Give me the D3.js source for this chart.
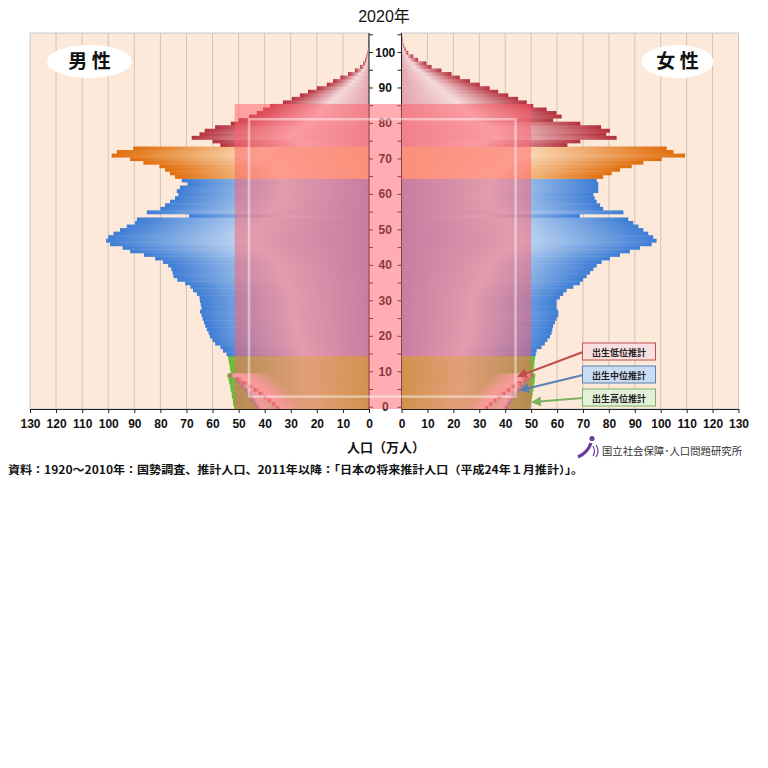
<!DOCTYPE html>
<html><head><meta charset="utf-8">
<script src="https://cdn.jsdelivr.net/npm/d3@7"></script>
<style>body{margin:0;background:#fff}</style>
</head><body>
<svg id="c" width="768" height="768"></svg>
<script>
// ---------------- data ----------------
const title = "2020年";
const ages = d3.range(0, 106);
// ages 0..105 (ages 0-9: medium-variant projection), 万人
const male = [
 43.5,44.3,45.1,46.0,46.9,47.9,49.0,50.2,51.4,53.5,
 53.0,53.3,53.5,53.8,54.0,54.6,56.0,57.0,59.0,60.0,
 61.0,61.5,62.2,62.8,63.3,63.8,64.2,64.8,64.2,64.5,
 64.8,65.0,66.0,67.5,68.5,70.5,73.5,75.0,75.3,75.8,
 77.0,79.0,82.0,86.3,91.6,94.5,99.3,100.8,100.0,98.0,
 95.5,92.9,89.7,89.0,69.0,85.2,80.0,78.2,76.3,74.4,
 73.1,73.7,72.5,69.5,71.8,74.4,76.3,78.2,80.4,86.5,
 91.6,98.7,96.7,90.4,57.0,60.0,68.0,65.0,63.0,59.0,
 53.0,50.0,46.0,43.0,40.6,38.0,33.0,29.6,26.5,23.4,
 20.0,16.2,13.8,11.0,8.0,5.4,3.4,2.2,1.5,1.0,
 0.6,0.4,0.25,0.15,0.1,0.05
];
const female = [
 41.0,41.8,42.7,43.6,44.6,45.6,46.7,47.9,49.1,50.6,
 50.8,51.0,51.2,51.3,51.5,51.8,52.1,54.0,55.3,56.3,
 57.3,57.9,58.2,58.5,59.2,59.8,60.5,60.5,59.8,59.8,
 59.8,61.1,62.4,63.7,66.3,68.8,70.0,71.4,72.7,74.0,
 75.3,77.2,80.4,84.3,88.1,92.0,96.5,98.4,97.1,95.2,
 93.3,91.4,89.4,87.5,68.8,85.6,77.8,76.6,75.3,74.5,
 74.0,75.9,75.9,75.9,75.3,77.8,81.1,84.3,88.8,93.3,
 100.4,109.4,104.9,102.3,64.0,69.0,83.0,79.0,80.4,77.0,
 69.0,58.5,61.8,59.8,56.0,50.8,48.3,45.0,41.2,37.3,
 34.0,30.2,26.4,22.5,19.3,15.4,11.6,9.6,6.4,4.5,
 2.6,1.6,1.0,0.6,0.35,0.2
];
// birth-variant projections for ages 0..9
const variantAges = d3.range(0, 10);
const maleLow    = [35.5,37.0,38.7,40.4,42.2,44.2,46.3,48.5,50.8,53.5];
const maleHigh   = [51.7,52.1,52.2,52.6,52.7,53.1,53.2,53.6,53.9,54.3];
const femaleLow  = [33.4,34.9,36.6,38.3,40.0,41.9,44.0,46.2,48.3,50.6];
const femaleHigh = [49.6,50.0,50.1,50.4,50.6,50.9,51.0,51.3,51.4,51.6];
const variantLabels = ["出生低位推計","出生中位推計","出生高位推計"];
const xTicks = d3.range(0, 131, 10);
const ageLabels = d3.range(0, 101, 10);
const ageMinor = d3.range(0, 106, 5);
const groupBreaks = [15, 65, 74];   // 0-14 / 15-64 / 65-73 / 74+
const overlayBox = {male: 51.5, female: 50, ageTop: 86};
const frameBox = {male: 46, female: 44, ageBottom: 3.5, ageTop: 81.7};

// ---------------- setup ----------------
const svg = d3.select("#c");
const defs = svg.append("defs");
const xL = d3.scaleLinear().domain([0, 130]).range([369, 30]);
const xR = d3.scaleLinear().domain([0, 130]).range([401.5, 738.5]);
const yB = d3.scaleBand().domain(ages).range([409, 33]);
const yA = d3.scaleLinear().domain([0, 106]).range([409, 33]);
const bw = yB.bandwidth();
const plotTop = 33, plotBottom = 409;

const groupColors = {
  green:  ["#66bb36", "#c4e38a", "#a2c632"],
  blue:   ["#3d7dd5", "#c6daf3", "#8c9edb"],
  orange: ["#e06e0c", "#fbd9b8", "#f4c48a"],
  red:    ["#b5313d", "#f5dadc", "#e3a4ab"]
};
function groupOf(a) {
  if (a < groupBreaks[0]) return "green";
  if (a < groupBreaks[1]) return "blue";
  if (a < groupBreaks[2]) return "orange";
  return "red";
}
["L", "R"].forEach(side => {
  Object.entries(groupColors).forEach(([k, c]) => {
    const g = defs.append("linearGradient").attr("id", `g-${k}-${side}`)
      .attr("x1", side === "L" ? 0 : 1).attr("x2", side === "L" ? 1 : 0)
      .attr("y1", 0).attr("y2", 0);
    g.append("stop").attr("offset", 0).attr("stop-color", c[0]);
    g.append("stop").attr("offset", 0.55).attr("stop-color", c[1]);
    g.append("stop").attr("offset", 1).attr("stop-color", c[2]);
  });
  [["low", "#c0504c", "#f8d8d0"], ["mid", "#6e7896", "#e8dde0"]].forEach(([k, dk, lt]) => {
    const g = defs.append("linearGradient").attr("id", `v-${k}-${side}`)
      .attr("x1", side === "L" ? 0 : 1).attr("x2", side === "L" ? 1 : 0)
      .attr("y1", 0).attr("y2", 0);
    g.append("stop").attr("offset", 0).attr("stop-color", dk).attr("stop-opacity", 1);
    g.append("stop").attr("offset", 0.05).attr("stop-color", lt).attr("stop-opacity", 0.95);
    g.append("stop").attr("offset", 0.3).attr("stop-color", lt).attr("stop-opacity", 0);
  });
});

// ---------------- panels ----------------
const panelBg = "#fce9da";
svg.append("rect").attr("x", xL(130)).attr("y", plotTop).attr("width", xL(0) - xL(130))
  .attr("height", plotBottom - plotTop).attr("fill", panelBg).attr("stroke", "#bbb").attr("stroke-width", 0.8);
svg.append("rect").attr("x", xR(0)).attr("y", plotTop).attr("width", xR(130) - xR(0))
  .attr("height", plotBottom - plotTop).attr("fill", panelBg).attr("stroke", "#bbb").attr("stroke-width", 0.8);
const grid = svg.append("g").attr("stroke", "#d2c3b6").attr("stroke-width", 1);
xTicks.slice(1, -1).forEach(t => {
  grid.append("line").attr("x1", xL(t)).attr("x2", xL(t)).attr("y1", plotTop).attr("y2", plotBottom);
  grid.append("line").attr("x1", xR(t)).attr("x2", xR(t)).attr("y1", plotTop).attr("y2", plotBottom);
});

// ---------------- bars ----------------
const bars = svg.append("g");
const mainAges = ages.filter(a => a >= 10);
bars.selectAll(".m").data(mainAges).join("rect").attr("class", "m")
  .attr("x", a => xL(male[a])).attr("y", a => yB(a))
  .attr("width", a => xL(0) - xL(male[a])).attr("height", bw + 0.4)
  .attr("fill", a => `url(#g-${groupOf(a)}-L)`);
bars.selectAll(".f").data(mainAges).join("rect").attr("class", "f")
  .attr("x", xR(0)).attr("y", a => yB(a))
  .attr("width", a => xR(female[a]) - xR(0)).attr("height", bw + 0.4)
  .attr("fill", a => `url(#g-${groupOf(a)}-R)`);

function variantBars(values, side, fill, cls) {
  const sc = side === "L" ? xL : xR;
  bars.selectAll("." + cls).data(variantAges).join("rect").attr("class", cls)
    .attr("x", a => side === "L" ? sc(values[a]) : sc(0))
    .attr("y", a => yB(a))
    .attr("width", a => Math.abs(sc(values[a]) - sc(0)))
    .attr("height", bw + 0.4)
    .attr("fill", fill);
}
variantBars(maleHigh, "L", "url(#g-green-L)", "mh");
variantBars(femaleHigh, "R", "url(#g-green-R)", "fh");
variantBars(male, "L", "url(#v-mid-L)", "mm");
variantBars(female, "R", "url(#v-mid-R)", "fm");
variantBars(maleLow, "L", "url(#v-low-L)", "ml");
variantBars(femaleLow, "R", "url(#v-low-R)", "fl");

// ---------------- age axis (center) ----------------
const ax = svg.append("g");
ax.append("line").attr("x1", xL(0)).attr("x2", xL(0)).attr("y1", plotTop).attr("y2", plotBottom).attr("stroke", "#222");
ax.append("line").attr("x1", xR(0)).attr("x2", xR(0)).attr("y1", plotTop).attr("y2", plotBottom).attr("stroke", "#222");
ageMinor.forEach(a => {
  const yy = yB(a) + bw / 2;
  ax.append("line").attr("x1", xL(0)).attr("x2", xL(0) + 4).attr("y1", yy).attr("y2", yy).attr("stroke", "#222");
  ax.append("line").attr("x1", xR(0) - 4).attr("x2", xR(0)).attr("y1", yy).attr("y2", yy).attr("stroke", "#222");
});
ax.selectAll("text").data(ageLabels).join("text")
  .attr("x", (xL(0) + xR(0)) / 2).attr("y", a => yB(a) + bw / 2 + 4)
  .attr("text-anchor", "middle").attr("font-family", "Liberation Sans, Arial, sans-serif")
  .attr("font-weight", "bold").attr("font-size", 12).attr("fill", "#111").text(a => a);

// ---------------- overlay ----------------
svg.append("rect")
  .attr("x", xL(overlayBox.male)).attr("y", yA(overlayBox.ageTop))
  .attr("width", xR(overlayBox.female) - xL(overlayBox.male))
  .attr("height", plotBottom - yA(overlayBox.ageTop))
  .attr("fill", "rgb(255,92,104)").attr("fill-opacity", 0.5);
svg.append("rect")
  .attr("x", xL(frameBox.male)).attr("y", yA(frameBox.ageTop))
  .attr("width", xR(frameBox.female) - xL(frameBox.male))
  .attr("height", yA(frameBox.ageBottom) - yA(frameBox.ageTop))
  .attr("fill", "none").attr("stroke", "#fff").attr("stroke-opacity", 0.45).attr("stroke-width", 2.5);

// ---------------- bottom axes ----------------
function bottomAxis(sc) {
  const g = svg.append("g").attr("transform", `translate(0,${plotBottom})`)
    .call(d3.axisBottom(sc).tickValues(xTicks).tickSize(4).tickSizeOuter(0).tickPadding(6));
  g.select(".domain").attr("stroke", "#222");
  g.selectAll(".tick line").attr("stroke", "#222");
  g.selectAll("text").attr("font-family", "Liberation Sans, Arial, sans-serif")
    .attr("font-weight", "bold").attr("font-size", 12).attr("fill", "#111");
}
bottomAxis(xL);
bottomAxis(xR);

const jp = "'Noto Sans CJK JP', sans-serif";
svg.append("text").attr("x", 386).attr("y", 452).attr("text-anchor", "middle")
  .attr("font-family", jp).attr("font-weight", "bold").attr("font-size", 13).attr("fill", "#111")
  .text("人口（万人）");

svg.append("text").attr("x", 384).attr("y", 22).attr("text-anchor", "middle")
  .attr("font-family", "Liberation Sans, 'Noto Sans CJK JP', sans-serif").attr("font-size", 16)
  .attr("fill", "#111").text(title);

[["男 性", 89.5, 42.5], ["女 性", 677.5, 36]].forEach(([t, cx, rx]) => {
  svg.append("ellipse").attr("cx", cx).attr("cy", 61.5).attr("rx", rx).attr("ry", 16.5).attr("fill", "#fff");
  svg.append("text").attr("x", cx).attr("y", 68).attr("text-anchor", "middle")
    .attr("font-family", jp).attr("font-weight", "bold").attr("font-size", 19).attr("fill", "#111").text(t);
});

// ---------------- variant legend & arrows ----------------
const legendStyles = [
  {fill: "#f9e0e0", stroke: "#c0504c", y: 343, end: [519, 376]},
  {fill: "#c9dcf2", stroke: "#5a80b2", y: 366, end: [521, 390]},
  {fill: "#e3f1da", stroke: "#7fb05e", y: 389, end: [533, 402]}
];
legendStyles.forEach((s, i) => {
  const mk = defs.append("marker").attr("id", "ah" + i).attr("viewBox", "0 0 10 10")
    .attr("refX", 8).attr("refY", 5).attr("markerWidth", 5).attr("markerHeight", 5).attr("orient", "auto");
  mk.append("path").attr("d", "M0,0L10,5L0,10z").attr("fill", s.stroke);
  svg.append("line").attr("x1", 583).attr("y1", s.y + 9).attr("x2", s.end[0]).attr("y2", s.end[1])
    .attr("stroke", s.stroke).attr("stroke-width", 2).attr("marker-end", `url(#ah${i})`);
  svg.append("rect").attr("x", 582.5).attr("y", s.y).attr("width", 73).attr("height", 17)
    .attr("fill", s.fill).attr("stroke", s.stroke).attr("stroke-width", 1);
  svg.append("text").attr("x", 619).attr("y", s.y + 12.5).attr("text-anchor", "middle")
    .attr("font-family", jp).attr("font-weight", "bold").attr("font-size", 9).attr("fill", "#222")
    .text(variantLabels[i]);
});

// ---------------- logo & source ----------------
const logo = svg.append("g").attr("fill", "none").attr("stroke", "#6b3c9c");
svg.append("circle").attr("cx", 592).attr("cy", 438.5).attr("r", 2.6).attr("fill", "#6b3c9c");
logo.append("path").attr("d", "M591,443 C589,449 585,454 578,457").attr("stroke-width", 3.2);
logo.append("path").attr("d", "M593,446 Q596,451 593,456").attr("stroke-width", 1.2);
logo.append("path").attr("d", "M596,445 Q600,451 596,457").attr("stroke-width", 1.2);
svg.append("text").attr("x", 602).attr("y", 455).attr("font-family", jp).attr("font-size", 10.5)
  .attr("fill", "#333").attr("textLength", 140).attr("lengthAdjust", "spacingAndGlyphs")
  .text("国立社会保障･人口問題研究所");
svg.append("text").attr("x", 8).attr("y", 474).attr("font-family", jp).attr("font-weight", "bold")
  .attr("font-size", 11).attr("fill", "#111").attr("textLength", 575).attr("lengthAdjust", "spacingAndGlyphs")
  .text("資料：1920～2010年：国勢調査、推計人口、2011年以降：「日本の将来推計人口（平成24年１月推計）」。");
</script>
</body></html>
